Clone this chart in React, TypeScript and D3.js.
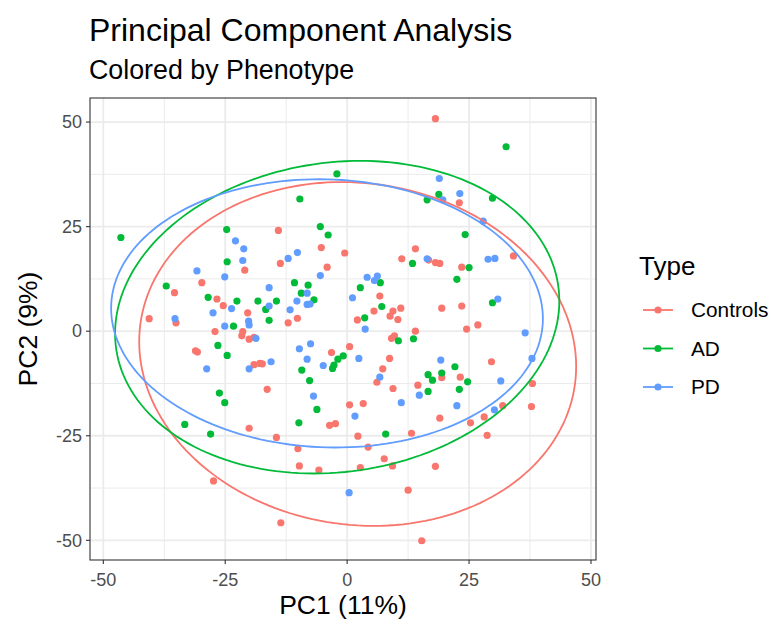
import React, { useEffect, useRef } from 'react';
import * as d3 from 'd3';

// PCA scores (PC1, PC2)
const controls: [number, number][] = [
  [18.1, 50.8], [-14.1, 24.1], [-5.3, 20.0], [-0.5, 18.7], [14.0, 19.7], [23.0, 30.7],
  [-21.0, 14.6], [-29.8, 11.6], [-35.4, 9.2], [-26.7, 7.7], [-25.4, 6.1], [-20.4, 4.4],
  [-40.6, 3.0], [-35.1, 2.0], [-27.1, -0.1], [-21.4, -0.1], [-21.6, -1.1], [-20.1, -1.9],
  [-19.1, -1.5], [-31.1, -4.7], [-30.7, -5.0], [-19.1, -8.0], [-17.9, -7.7], [-13.7, 16.2],
  [11.2, 17.3], [-4.1, 15.3], [6.7, 8.4], [11.0, 5.5], [9.4, 4.8], [5.5, 4.8],
  [8.8, 3.6], [10.4, 2.8], [2.1, 2.7], [-10.2, 3.1], [-12.1, 2.0], [14.0, 0.0],
  [9.7, -1.1], [9.1, -1.7], [0.5, -3.7], [-3.2, -5.1], [-17.4, -7.8], [8.7, -6.5],
  [7.3, -9.0], [6.1, -12.2], [14.5, -12.9], [-16.4, -13.9], [9.4, -13.7], [0.5, -17.6],
  [3.3, -17.3], [34.1, 18.0], [16.7, 17.0], [18.1, 16.4], [19.0, 16.2], [23.5, 15.3],
  [19.4, 5.5], [23.5, 6.0], [26.8, 1.5], [24.5, 0.5], [29.6, -7.3], [19.4, -11.1],
  [23.2, -11.0], [38.0, -12.5], [31.9, -17.8], [37.8, -18.0], [-20.1, -23.2], [-27.4, -35.8],
  [-3.6, -22.5], [-2.4, -22.1], [13.2, -24.4], [-14.5, -25.4], [2.2, -25.1], [-10.1, -28.1],
  [4.3, -27.7], [7.6, -30.5], [9.3, -32.2], [-9.8, -32.2], [-5.8, -33.2], [2.7, -32.6],
  [12.5, -38.0], [-13.6, -45.8], [15.3, -50.1], [19.0, -20.8], [25.3, -21.9], [28.1, -20.5],
  [28.7, -24.9], [18.1, -32.3],
];

const ad: [number, number][] = [
  [-46.4, 22.4], [-24.7, 24.3], [-2.1, 37.6], [-9.7, 31.6], [16.4, 31.4], [-5.5, 25.0],
  [-3.9, 23.0], [32.6, 44.1], [18.8, 32.7], [29.8, 31.8], [24.2, 23.1], [-24.6, 16.6],
  [-37.1, 10.8], [-28.5, 8.1], [-22.6, 7.2], [-18.3, 7.2], [-23.3, 1.2], [-26.5, -3.4],
  [-24.6, -5.8], [-26.2, -14.8], [-25.1, -17.1], [13.4, 16.2], [6.8, 11.6], [-10.8, 11.6],
  [-8.0, 11.0], [2.7, 10.4], [-9.4, 9.1], [-6.8, 7.5], [-14.5, 7.2], [7.1, 5.9],
  [-16.7, 5.2], [3.6, 3.2], [-16.0, 2.6], [10.5, -2.3], [13.6, -1.8], [-0.8, -5.9],
  [-1.9, -6.7], [-2.7, -8.1], [-3.0, -8.9], [-9.3, -9.3], [-7.7, -11.8], [16.6, -10.4],
  [16.6, -14.4], [25.0, 15.2], [22.5, 12.4], [29.8, 6.8], [22.1, -8.5], [17.5, -11.7],
  [19.4, -10.0], [24.7, -12.1], [23.0, -13.9], [-33.3, -22.3], [-28.0, -24.6], [-6.2, -18.7],
  [-9.9, -21.9], [7.9, -24.6],
];

const pd: [number, number][] = [
  [-22.9, 21.6], [-21.2, 19.7], [-10.2, 18.8], [18.9, 36.5], [19.6, 31.4], [23.1, 32.9],
  [27.9, 26.3], [-21.4, 16.9], [-30.8, 14.4], [-25.1, 13.0], [-23.7, 5.4], [-27.5, 4.4],
  [-35.3, 3.0], [-20.2, 2.4], [-20.1, 1.5], [-25.1, 1.2], [-18.7, -1.7], [-28.8, -9.0],
  [-20.1, -9.0], [-12.1, 17.4], [16.4, 17.3], [-5.5, 13.3], [4.1, 12.9], [6.2, 13.2],
  [5.6, 12.1], [-16.0, 10.4], [-8.2, 9.1], [1.1, 8.0], [-10.3, 7.2], [-8.2, 6.4],
  [-7.6, 6.5], [-16.0, 6.0], [-11.7, 5.1], [3.7, 0.5], [-7.5, -3.0], [-9.8, -4.2],
  [2.4, -6.5], [-8.2, -6.7], [-15.6, -7.3], [-4.9, -8.2], [6.7, -11.0], [14.8, -15.3],
  [-6.9, -15.5], [11.1, -17.1], [28.9, 17.2], [30.3, 17.4], [30.9, 7.7], [36.5, -0.4],
  [19.2, -6.9], [37.9, -6.5], [31.5, -11.9], [22.5, -17.8], [1.6, -20.3], [0.4, -38.6],
  [30.2, -18.8],
];

const groups = ['Controls', 'AD', 'PD'];
const groupColors = ['#F8766D', '#00BA38', '#619CFF'];

// 95% ellipses: centre, radii and correlation
const ellipseCenters: [number, number][] = [[2.16, -5.45], [-2.04, 3.35], [-4.13, 4.26]];
const ellipseRadii: [number, number][] = [[44.8, 41.1], [45.55, 37.37], [44.27, 32.07]];
const ellipseCorr = [-0.072, 0.104, -0.038];

const majorTicks = [-50, -25, 0, 25, 50];
const minorTicks = [-37.5, -12.5, 12.5, 37.5];

export default function App() {
  const svgRef = useRef<SVGSVGElement>(null);

  useEffect(() => {
    if (!svgRef.current) return;
    const svg = d3.select(svgRef.current);
    svg.selectAll('*').remove();

    const left = 90, right = 596, top = 98, bottom = 560;
    const font = 'Liberation Sans, Arial, sans-serif';

    const x = d3.scaleLinear().domain([-52.73, 51.03]).range([left, right]);
    const y = d3.scaleLinear().domain([55.75, -54.7]).range([top, bottom]);

    svg.append('rect').attr('width', 771).attr('height', 624).attr('fill', 'white');

    // grid
    const grid = svg.append('g');
    minorTicks.forEach(v => {
      grid.append('line').attr('x1', x(v)).attr('x2', x(v)).attr('y1', top).attr('y2', bottom)
        .attr('stroke', '#ebebeb').attr('stroke-width', 1);
      grid.append('line').attr('x1', left).attr('x2', right).attr('y1', y(v)).attr('y2', y(v))
        .attr('stroke', '#ebebeb').attr('stroke-width', 1);
    });
    majorTicks.forEach(v => {
      grid.append('line').attr('x1', x(v)).attr('x2', x(v)).attr('y1', top).attr('y2', bottom)
        .attr('stroke', '#ebebeb').attr('stroke-width', 1.8);
      grid.append('line').attr('x1', left).attr('x2', right).attr('y1', y(v)).attr('y2', y(v))
        .attr('stroke', '#ebebeb').attr('stroke-width', 1.8);
    });

    // points
    const pointSets = [controls, ad, pd];
    pointSets.forEach((pts, i) => {
      svg.append('g').selectAll('circle').data(pts).enter().append('circle')
        .attr('cx', d => x(d[0])).attr('cy', d => y(d[1])).attr('r', 3.6)
        .attr('fill', groupColors[i]);
    });

    // ellipses
    const ts = d3.range(0, 361, 2).map(a => (a * Math.PI) / 180);
    groups.forEach((g, i) => {
      const [cx, cy] = ellipseCenters[i];
      const [rx, ry] = ellipseRadii[i];
      const r = ellipseCorr[i];
      const ell = d3.line<number>()
        .x(t => x(cx + rx * Math.cos(t)))
        .y(t => y(cy + ry * (r * Math.cos(t) + Math.sqrt(1 - r * r) * Math.sin(t))))
        .curve(d3.curveLinearClosed);
      svg.append('path').attr('d', ell(ts) as string).attr('fill', 'none')
        .attr('stroke', groupColors[i]).attr('stroke-width', 1.8);
    });

    // panel border
    svg.append('rect').attr('x', left).attr('y', top).attr('width', right - left).attr('height', bottom - top)
      .attr('fill', 'none').attr('stroke', '#333333').attr('stroke-width', 1.1);

    // axes ticks + labels
    majorTicks.forEach(v => {
      svg.append('line').attr('x1', x(v)).attr('x2', x(v)).attr('y1', bottom).attr('y2', bottom + 4)
        .attr('stroke', '#333333').attr('stroke-width', 1.1);
      svg.append('text').attr('x', x(v)).attr('y', bottom + 26).attr('text-anchor', 'middle')
        .style('font-family', font).style('font-size', '18px').attr('fill', '#4d4d4d').text(v);
      svg.append('line').attr('x1', left - 4).attr('x2', left).attr('y1', y(v)).attr('y2', y(v))
        .attr('stroke', '#333333').attr('stroke-width', 1.1);
      svg.append('text').attr('x', left - 8).attr('y', y(v)).attr('dy', '0.35em').attr('text-anchor', 'end')
        .style('font-family', font).style('font-size', '18px').attr('fill', '#4d4d4d').text(v);
    });

    svg.append('text').attr('x', (left + right) / 2).attr('y', 614).attr('text-anchor', 'middle')
      .style('font-family', font).style('font-size', '26.5px').attr('fill', 'black').text('PC1 (11%)');
    svg.append('text').attr('transform', `translate(37,${(top + bottom) / 2}) rotate(-90)`)
      .attr('text-anchor', 'middle')
      .style('font-family', font).style('font-size', '26.5px').attr('fill', 'black').text('PC2 (9%)');

    // titles
    svg.append('text').attr('x', 89).attr('y', 41)
      .style('font-family', font).style('font-size', '32px').attr('fill', 'black')
      .text('Principal Component Analysis');
    svg.append('text').attr('x', 89).attr('y', 79)
      .style('font-family', font).style('font-size', '26.8px').attr('fill', 'black')
      .text('Colored by Phenotype');

    // legend
    const legend = svg.append('g');
    legend.append('text').attr('x', 639).attr('y', 275)
      .style('font-family', font).style('font-size', '26px').attr('fill', 'black').text('Type');
    groups.forEach((g, i) => {
      const ly = 310 + i * 38.5;
      legend.append('line').attr('x1', 643).attr('x2', 673).attr('y1', ly).attr('y2', ly)
        .attr('stroke', groupColors[i]).attr('stroke-width', 1.8);
      legend.append('circle').attr('cx', 658).attr('cy', ly).attr('r', 3.6).attr('fill', groupColors[i]);
      legend.append('text').attr('x', 691).attr('y', ly).attr('dy', '0.35em')
        .style('font-family', font).style('font-size', '20.8px').attr('fill', 'black').text(g);
    });
  }, []);

  return (
    <svg ref={svgRef} width={771} height={624}
      style={{ position: 'absolute', left: 0, top: 0, display: 'block' }} />
  );
}
